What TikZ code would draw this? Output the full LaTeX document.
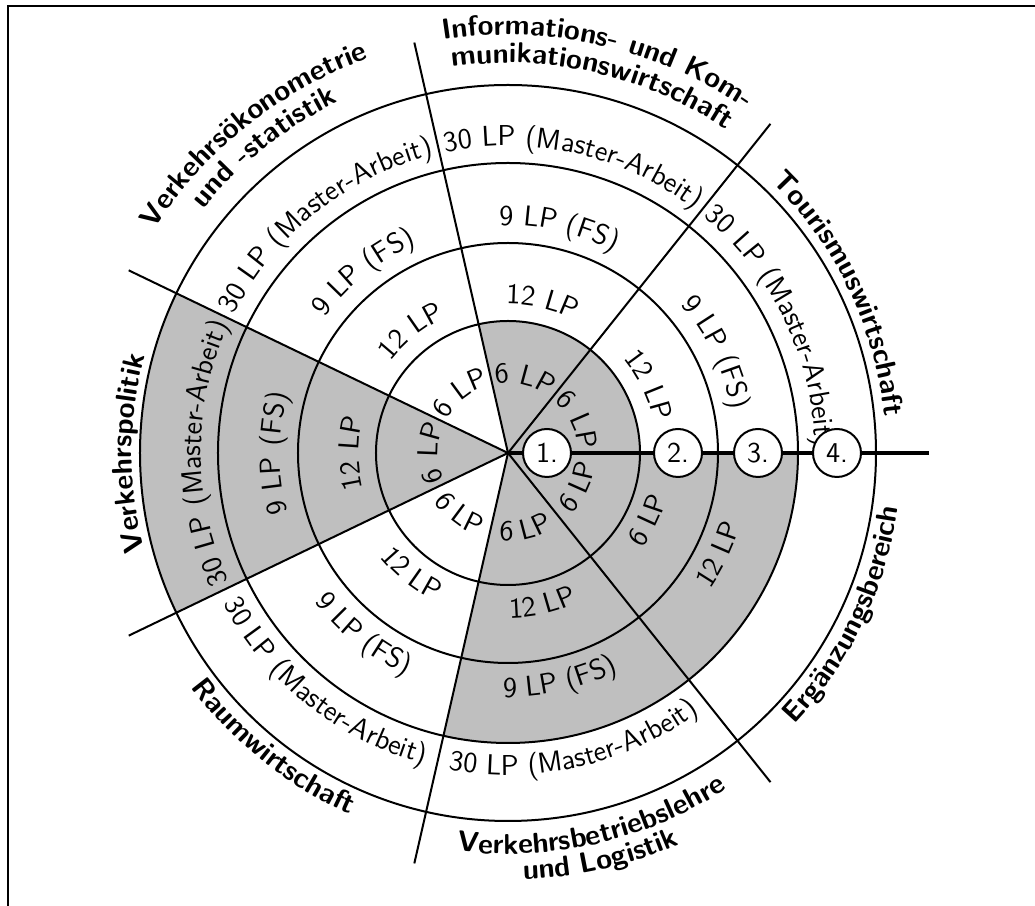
\documentclass[tikz,border=0pt]{standalone}
\usetikzlibrary{decorations.text}
\renewcommand{\familydefault}{\sfdefault}

\begin{document}
\begin{tikzpicture}[x=0.4pt,y=0.4pt,line width=0.8pt,
    execute at begin picture={\fontsize{11.5}{14}\selectfont},
    lpfill/.style={fill=black!25},
    arctext/.style={decorate,decoration={text along path,text align=center,text/.expanded={#1}}},
    stage/.style={circle,draw,fill=white,minimum size=19.2pt,inner sep=0pt}]
        \useasboundingbox (-508,-453) rectangle (527,453);
        % Draw frame
        \draw (-500,-453) -- (-500,447) -- (527,447);
        % Shade the compulsory parts
        \foreach \k/\rad in {0/132,1/132,3/368,5/290,6/290}
            \fill[lpfill] (0,0) -- ({\k*360/7}:\rad) arc[start angle={\k*360/7},end angle={(\k+1)*360/7},radius=\rad] -- cycle;
        % Draw rings and spokes
        \foreach \rad in {132,210,290,368}
            \draw (0,0) circle[radius=\rad];
        \foreach \k in {1,...,6}
            \draw (0,0) -- ({\k*360/7}:421);
        % Credits in the upper sectors, read clockwise
        \foreach \ang in {25.71,77.14,128.57,180}
            \foreach \rad/\lbl in {70/6 LP,149/12 LP,228/9 LP (FS),307/30 LP (Master-Arbeit)}
                \path[arctext=\lbl] ({\ang+45}:\rad) arc[start angle={\ang+45},end angle={\ang-45},radius=\rad];
        % Credits in the lower sectors, read anticlockwise
        \foreach \ang/\rad/\lbl in {231.43/88/6 LP,231.43/165/12 LP,231.43/244/9 LP (FS),231.43/322/30 LP (Master-Arbeit),
                                   282.86/88/6 LP,282.86/165/12 LP,282.86/244/9 LP (FS),282.86/322/30 LP (Master-Arbeit),
                                   334.29/88/6 LP,334.29/165/6 LP,334.29/244/12 LP}
            \path[arctext=\lbl] ({\ang-45}:\rad) arc[start angle={\ang-45},end angle={\ang+45},radius=\rad];
        % Field names
        \foreach \ang/\rad/\lbl in {25.71/378/Tourismuswirtschaft,77.14/418/Informations- und Kom-,77.14/390/munikationswirtschaft,
                                   128.57/418/Verkehrsökonometrie,128.57/390/und -statistik,180/376/Verkehrspolitik}
            \path[arctext={|\noexpand\bfseries|\lbl}] ({\ang+45}:\rad) arc[start angle={\ang+45},end angle={\ang-45},radius=\rad];
        \foreach \ang/\rad/\lbl in {231.43/394/Raumwirtschaft,282.86/401/Verkehrsbetriebslehre,282.86/427/und Logistik,334.29/394/Ergänzungsbereich}
            \path[arctext={|\noexpand\bfseries|\lbl}] ({\ang-45}:\rad) arc[start angle={\ang-45},end angle={\ang+45},radius=\rad];
        % Stages
        \coordinate (c) at (0,0);
        \coordinate (e) at (421,0);
        \draw[line width=1.4pt] (c) -- (e);
        \foreach \n/\rad in {1/39,2/170,3/250,4/329}
            \node[stage] (s\n) at (\rad,0) {\n.};
\end{tikzpicture}
\end{document}
